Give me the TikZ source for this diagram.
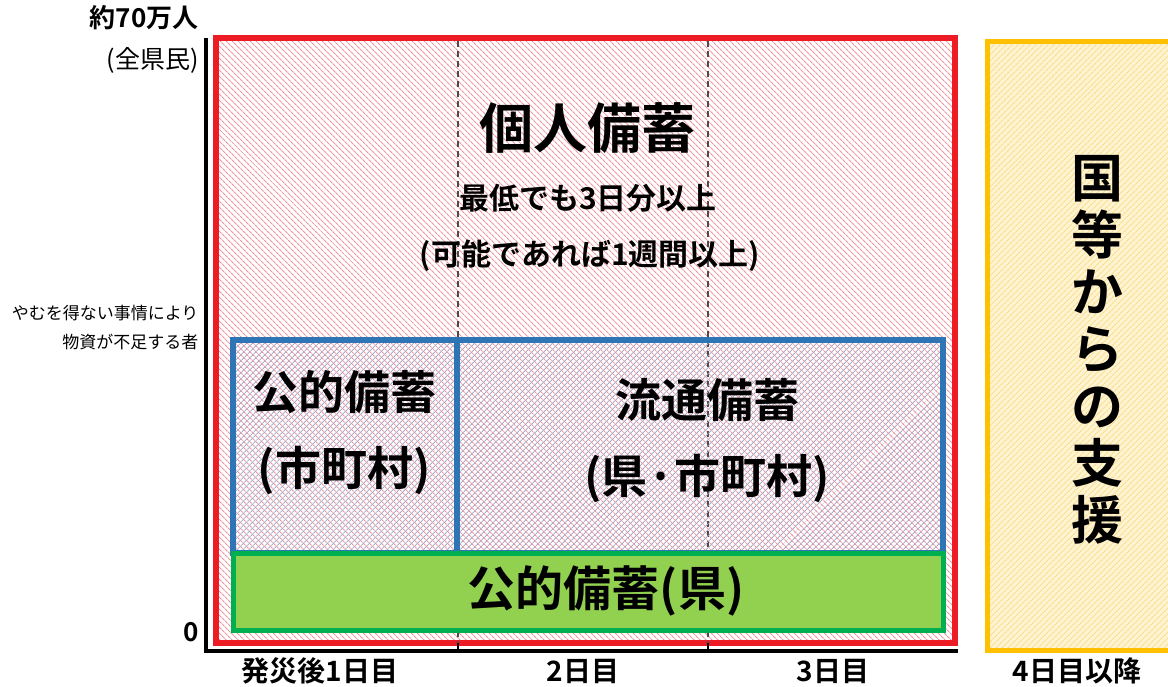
\documentclass[tikz,border=0pt]{standalone}
\usepackage{fontspec}
\setmainfont{Noto Sans CJK JP}[BoldFont={Noto Sans CJK JP Bold}]
\usetikzlibrary{patterns.meta}

\definecolor{boxred}{RGB}{237,28,36}
\definecolor{hatchred}{RGB}{240,150,160}
\definecolor{boxblue}{RGB}{46,117,182}
\definecolor{hatchblue}{RGB}{165,175,205}
\definecolor{boxgreen}{RGB}{0,176,80}
\definecolor{fillgreen}{RGB}{146,208,80}
\definecolor{boxorange}{RGB}{255,192,0}
\definecolor{fillcream}{RGB}{255,244,210}
\definecolor{hatchyellow}{RGB}{248,222,140}

\tikzset{
  redbox/.style={draw=boxred, line width=6pt, preaction={fill=white},
    pattern={Lines[angle=-45, distance=4pt, line width=1.2pt]}, pattern color=hatchred},
  bluebox/.style={draw=boxblue, line width=6pt,
    pattern={Lines[angle=45, distance=4pt, line width=1pt]}, pattern color=hatchblue},
  greenbox/.style={draw=boxgreen, line width=5pt, fill=fillgreen},
  orangebox/.style={draw=boxorange, line width=5pt, preaction={fill=fillcream},
    pattern={Lines[angle=45, distance=4pt, line width=1.2pt]}, pattern color=hatchyellow},
  divider/.style={draw=black!70, line width=1.5pt, dash pattern=on 6pt off 4pt},
  big/.style={font=\bfseries\fontsize{54}{60}\selectfont},
  mid/.style={font=\bfseries\fontsize{30}{34}\selectfont},
  head/.style={font=\bfseries\fontsize{46}{52}\selectfont},
  axislabel/.style={font=\bfseries\fontsize{28}{32}\selectfont},
  sidelabel/.style={font=\fontsize{17}{20}\selectfont, anchor=east}
}

\begin{document}
\begin{tikzpicture}[x=1pt, y=-1pt]
    \useasboundingbox (0,0) rectangle (1168,686);

    % outer box
    \draw[redbox] (216,38) rectangle (955,643);

    % day dividers
    \coordinate (d1top) at (458,41);
    \coordinate (d1bot) at (458,650);
    \coordinate (d2top) at (708,41);
    \coordinate (d2bot) at (708,650);
    \draw[divider] (d1top) -- (d1bot);
    \draw[divider] (d2top) -- (d2bot);

    % inner boxes
    \draw[bluebox] (233,340) rectangle (457,553);
    \draw[bluebox] (457,340) rectangle (943,553);
    \draw[greenbox] (233,553) rectangle (943,630);
    \draw[orangebox] (987,41) rectangle (1174,650);
    \draw[line width=2pt] (458,643) -- (d1bot);
    \draw[line width=2pt] (708,643) -- (d2bot);

    % axes
    \coordinate (ytop) at (206,38);
    \coordinate (origin) at (206,651);
    \coordinate (xend) at (958,651);
    \draw[line width=4pt] (ytop) -- (origin) -- (xend);

    % texts in the boxes
    \node[big] (kojin) at (587,128) {個人備蓄};
    \node[mid] (saitei) at (588,198) {最低でも3日分以上};
    \node[mid] (kanou) at (590,256) {(可能であれば1週間以上)};
    \node[head] (kouteki) at (344,392) {公的備蓄};
    \node[head] (shicho) at (344,470) {(市町村)};
    \node[head] (ryutsu) at (707,400) {流通備蓄};
    \node[head] (kenshi) at (707,478) {(県·市町村)};
    \node[font=\bfseries\fontsize{48}{54}\selectfont] (kenbi) at (606,591) {公的備蓄(県)};
    \node[font=\bfseries\fontsize{52}{57}\selectfont, align=center] (kuni) at (1097,350)
        {国\\等\\か\\ら\\の\\支\\援};

    % axis labels
    \node[font=\bfseries\fontsize{26}{30}\selectfont, anchor=east] (max) at (202,18) {約70万人};
    \node[sidelabel, font=\fontsize{25}{28}\selectfont] (zen) at (202,60) {(全県民)};
    \node[sidelabel] (yamu1) at (202,313) {やむを得ない事情により};
    \node[sidelabel] (yamu2) at (202,342) {物資が不足する者};
    \node[font=\bfseries\fontsize{26}{30}\selectfont, anchor=east] (zero) at (202,632) {0};
    \node[axislabel] (day1) at (320,671) {発災後1日目};
    \node[axislabel] (day2) at (583,671) {2日目};
    \node[axislabel] (day3) at (833,671) {3日目};
    \node[axislabel] (day4) at (1077,671) {4日目以降};
\end{tikzpicture}
\end{document}
